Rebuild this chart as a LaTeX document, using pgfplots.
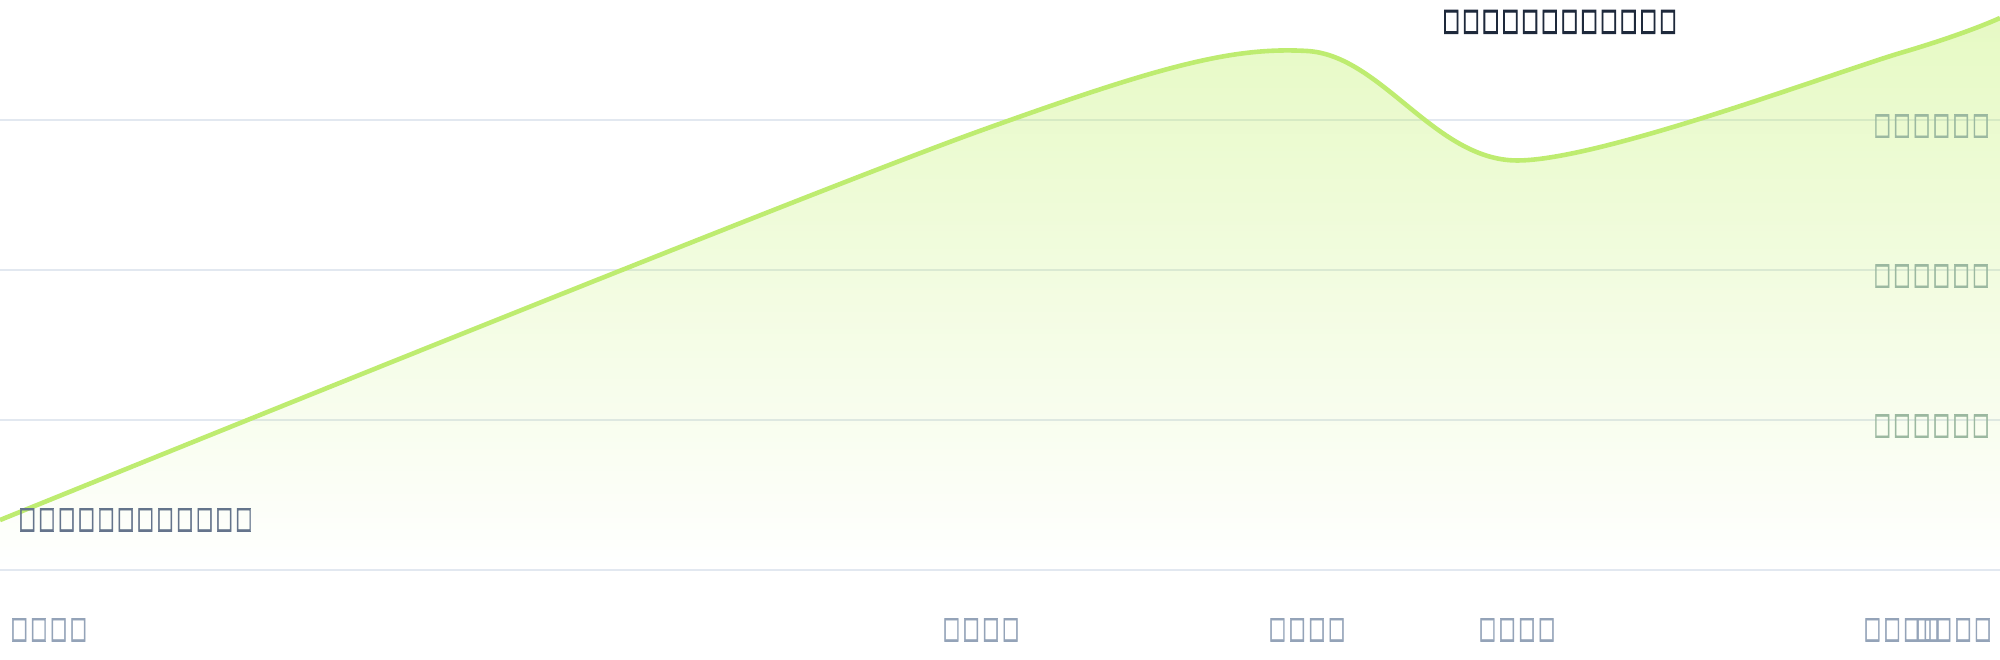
\documentclass[border=0pt]{standalone}
\usepackage{fontspec}
\setmainfont{DejaVu Sans}
\newfontfamily\tofufont[FakeBold=2.5]{DejaVu Sans}
\newfontfamily\tofufontb[FakeBold=4.5]{DejaVu Sans}
\usepackage{graphicx}
\usepackage{pgfplots}
\pgfplotsset{compat=1.18}
\usetikzlibrary{fadings}
\definecolor{limeline}{RGB}{190,236,112}
\definecolor{limefill}{RGB}{190,240,100}
\definecolor{gridc}{RGB}{226,232,240}
\definecolor{titlec}{RGB}{30,41,59}
\definecolor{annc}{RGB}{100,116,139}
\definecolor{tickc}{RGB}{148,163,184}
\definecolor{ylabc}{RGB}{155,184,160}
\newcommand\tf{\makebox[9.85bp]{\resizebox*{8.4bp}{11.5bp}{\bfseries □}}}
\newcommand\bx[1]{\tofufont\fontsize{16bp}{18bp}\selectfont #1}
\newcommand\bxb[1]{\tofufontb\fontsize{16bp}{18bp}\selectfont #1}
\begin{document}
\begin{tikzpicture}[x=0.5bp,y=0.5bp]
\useasboundingbox (0,0) rectangle (2000,660);
\begin{axis}[
  at={(0,60)}, anchor=south west,
  width=1000bp, height=300bp, scale only axis,
  xmin=0, xmax=2000, ymin=0, ymax=4,
  axis line style={draw=none},
  xtick=\empty,
  ytick={0,1,2,3},
  yticklabels={},
  ymajorgrids,
  major tick length=0pt,
  grid style={gridc, line width=0.75bp},
  clip=false,
]
\addplot[draw=none, fill=limefill, fill opacity=0.38, path fading=south, smooth]
  coordinates {(0,0.333) (981,2.93) (1307,3.46) (1517,2.73) (1902,3.45) (2000,3.68)} \closedcycle;
\addplot[draw=limeline, line width=2.3bp, smooth]
  coordinates {(0,0.333) (981,2.93) (1307,3.46) (1517,2.73) (1902,3.45) (2000,3.68)};
\end{axis}
% title and annotation
\node[anchor=north west, inner sep=0, text=titlec] at (1441,650) {\bxb{\tf\tf\tf\tf\tf\tf\tf\tf\tf\tf\tf\tf}};
\node[anchor=north west, inner sep=0, text=annc] at (17,152) {\bx{\tf\tf\tf\tf\tf\tf\tf\tf\tf\tf\tf\tf}};
% y labels
\node[anchor=south east, inner sep=0, text=ylabc] at (1991,522) {\bx{\tf\tf\tf\tf\tf\tf}};
\node[anchor=south east, inner sep=0, text=ylabc] at (1991,372) {\bx{\tf\tf\tf\tf\tf\tf}};
\node[anchor=south east, inner sep=0, text=ylabc] at (1991,222) {\bx{\tf\tf\tf\tf\tf\tf}};
% x labels
\node[anchor=north west, inner sep=0, text=tickc] at (9,42) {\bx{\tf\tf\tf\tf}};
\node[anchor=north, inner sep=0, text=tickc] at (981,42) {\bx{\tf\tf\tf\tf}};
\node[anchor=north, inner sep=0, text=tickc] at (1307,42) {\bx{\tf\tf\tf\tf}};
\node[anchor=north, inner sep=0, text=tickc] at (1517,42) {\bx{\tf\tf\tf\tf}};
\node[anchor=north, inner sep=0, text=tickc] at (1902,42) {\bx{\tf\tf\tf\tf}};
\node[anchor=north east, inner sep=0, text=tickc] at (1993,42) {\bx{\tf\tf\tf\tf}};
\end{tikzpicture}
\end{document}
